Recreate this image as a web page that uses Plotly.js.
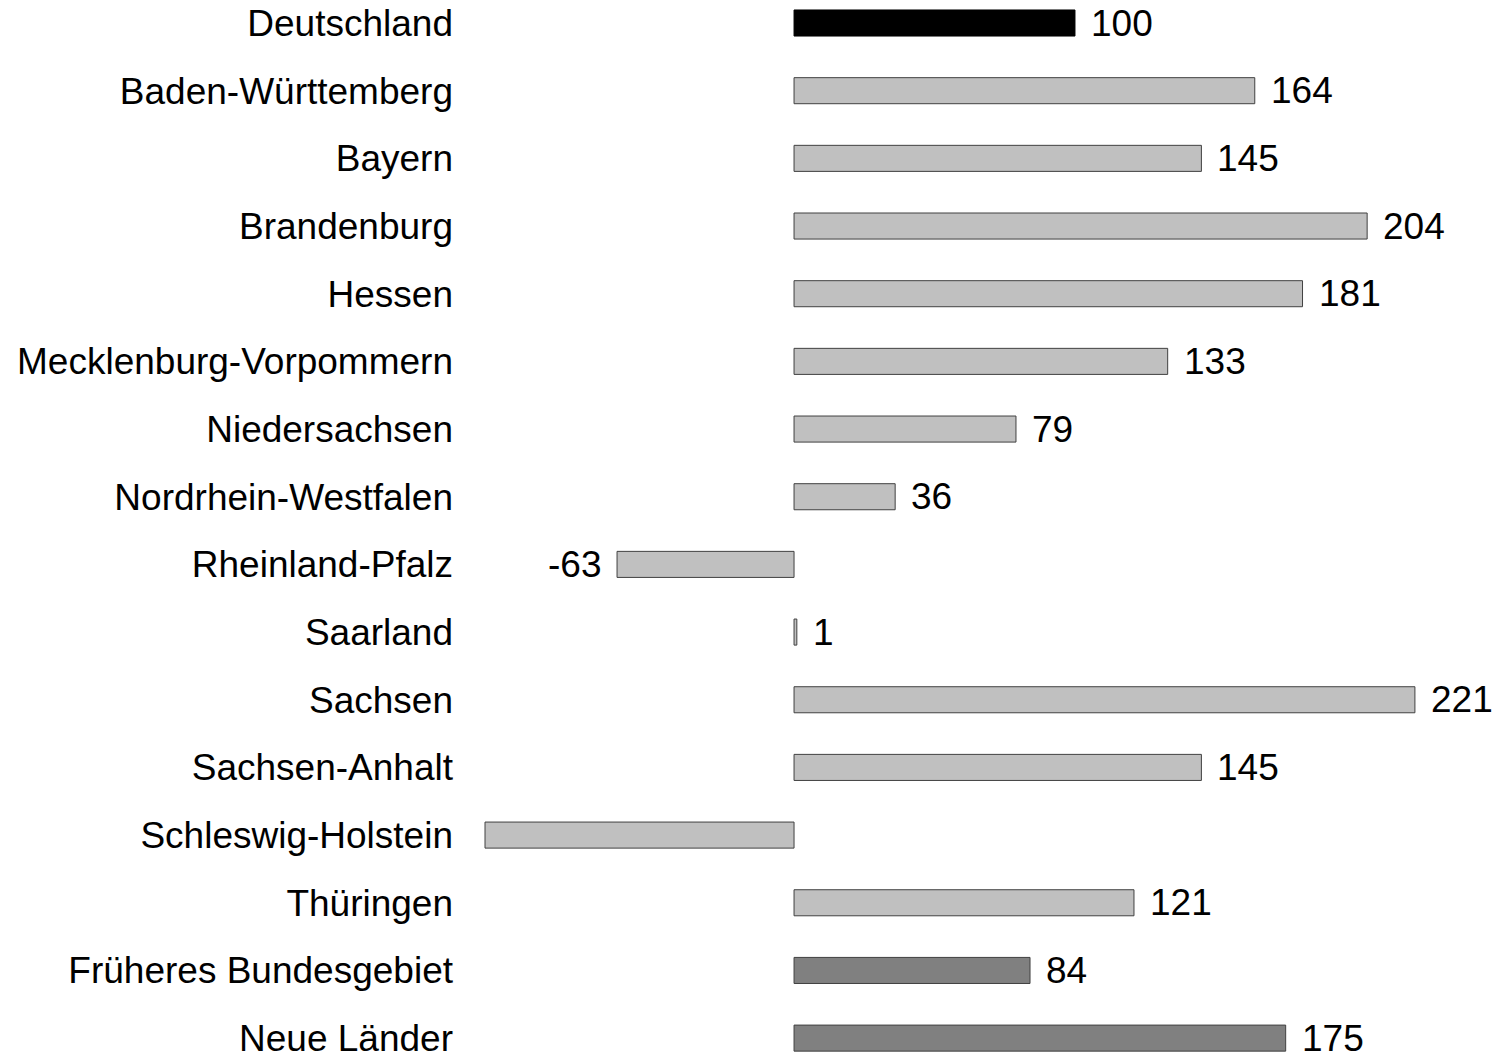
<!DOCTYPE html>
<html>
<head>
<meta charset="utf-8">
<script src="https://cdn.plot.ly/plotly-3.0.1.min.js"></script>
<style>html,body{margin:0;padding:0;background:#fff;}#chart{width:1502px;height:1053px;}</style>
</head>
<body>
<div id="chart"></div>
<script>
const categories = ["Deutschland","Baden-Württemberg","Bayern","Brandenburg","Hessen","Mecklenburg-Vorpommern","Niedersachsen","Nordrhein-Westfalen","Rheinland-Pfalz","Saarland","Sachsen","Sachsen-Anhalt","Schleswig-Holstein","Thüringen","Früheres Bundesgebiet","Neue Länder"];
const values = [100,164,145,204,181,133,79,36,-63,1,221,145,-110,121,84,175];
const labelShown = [true,true,true,true,true,true,true,true,true,true,true,true,false,true,true,true];
const groups = ["total","land","land","land","land","land","land","land","land","land","land","land","land","land","region","region"];

const FONT = "Liberation Sans, Arial, sans-serif";
const fillFor = {total:"#000000", land:"#c0c0c0", region:"#808080"};
const lineFor = {total:"#000000", land:"#404040", region:"#404040"};

const trace = {
  type:"bar", orientation:"h",
  y: categories, x: values,
  marker:{color: groups.map(g=>fillFor[g]), line:{color: groups.map(g=>lineFor[g]), width:1}},
  cliponaxis:false,
  hoverinfo:"none"
};

const annotations = [];
values.forEach((v,i)=>{
  if(!labelShown[i]) return;
  annotations.push({
    x: v, y: categories[i], xref:"x", yref:"y",
    text: String(v), showarrow:false,
    xanchor: v<0 ? "right" : "left", yanchor:"middle",
    xshift: v<0 ? -14 : 14, yshift: 0,
    font:{family:FONT, size:37, color:"#000"}
  });
});

const layout = {
  width:1502, height:1053,
  margin:{l:460, r:0, t:0, b:0},
  paper_bgcolor:"#fff", plot_bgcolor:"#fff",
  bargap:0.615,
  showlegend:false,
  font:{family:FONT, size:37, color:"#000"},
  annotations: annotations,
  xaxis:{range:[-118.9, 252.0], showgrid:false, zeroline:false, showticklabels:false, ticks:"", showline:false, fixedrange:true},
  yaxis:{type:"category", categoryorder:"array", categoryarray:categories, range:[15.22, -0.34],
         showgrid:false, zeroline:false, ticks:"", showline:false, ticklabelstandoff:6,
         tickfont:{family:FONT, size:37, color:"#000"}, fixedrange:true}
};

Plotly.newPlot("chart", [trace], layout, {staticPlot:true, displayModeBar:false});
</script>
</body>
</html>
